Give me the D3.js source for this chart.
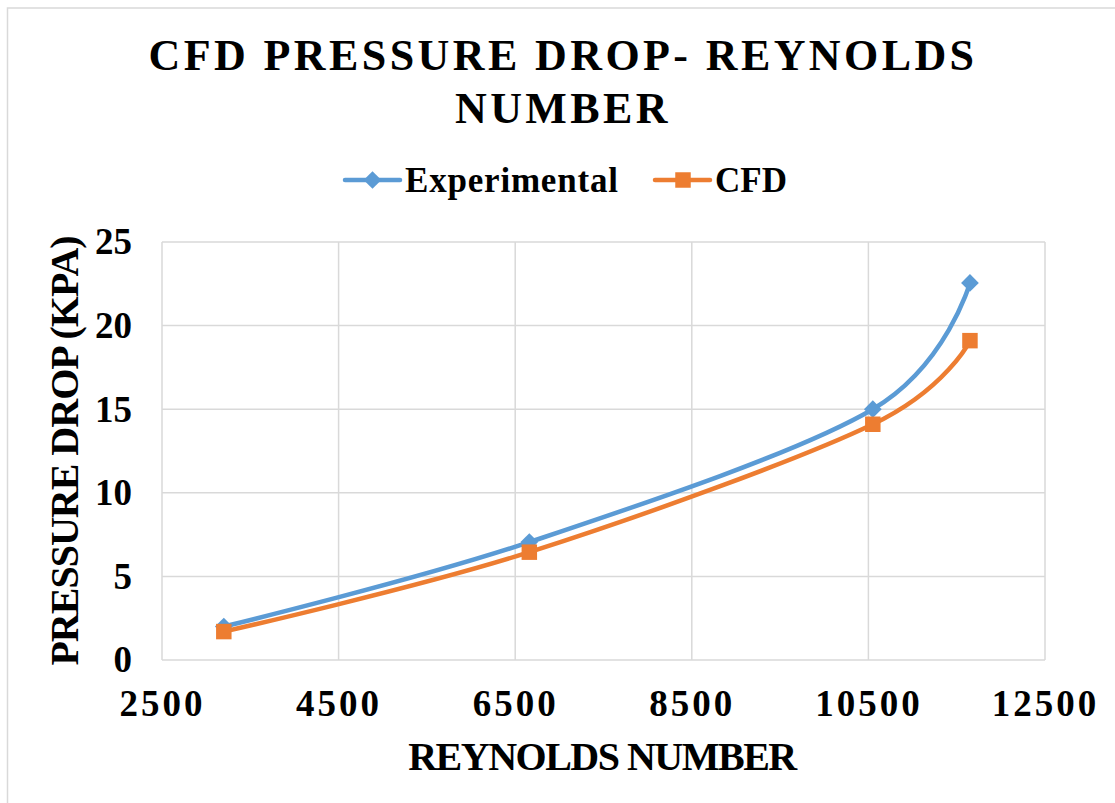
<!DOCTYPE html>
<html>
<head>
<meta charset="utf-8">
<script src="https://cdn.jsdelivr.net/npm/d3@7"></script>
<style>
  body { margin: 0; background: #fff; }
  text { font-family: "Liberation Serif", "Times New Roman", serif; font-weight: bold; fill: #000; }
</style>
</head>
<body>
<script>
// data
const reynolds = [3200, 6660, 10550, 11650]
const experimental = [2.0, 7.05, 15.0, 22.55]
const cfd = [1.7, 6.45, 14.1, 19.1]
const xTicks = [2500, 4500, 6500, 8500, 10500, 12500]
const yTicks = [0, 5, 10, 15, 20, 25]

const width = 1115
const height = 803

// plot box
const plotLeft = 162, plotRight = 1045, plotTop = 242, plotBottom = 660

const svg = d3.select("body").append("svg")
    .attr("width", width)
    .attr("height", height)

// outer chart border (runs off the right/bottom edge)
svg.append("rect")
    .attr("x", 7.5).attr("y", 8)
    .attr("width", width + 20).attr("height", height + 20)
    .attr("fill", "none")
    .attr("stroke", "#d9d9d9")
    .attr("stroke-width", 1.5)

let x = d3.scaleLinear().domain([2500, 12500]).range([plotLeft, plotRight])
let y = d3.scaleLinear().domain([0, 25]).range([plotBottom, plotTop])

// gridlines
svg.append("g").selectAll("line")
    .data(xTicks)
    .join("line")
    .attr("x1", d => x(d)).attr("x2", d => x(d))
    .attr("y1", plotTop).attr("y2", plotBottom)
    .attr("stroke", "#d9d9d9").attr("stroke-width", 1.5)

svg.append("g").selectAll("line")
    .data(yTicks)
    .join("line")
    .attr("x1", plotLeft).attr("x2", plotRight)
    .attr("y1", d => y(d)).attr("y2", d => y(d))
    .attr("stroke", "#d9d9d9").attr("stroke-width", 1.5)

// axes (labels only)
let xAxis = svg.append("g")
    .attr("transform", `translate(0, ${plotBottom})`)
    .call(d3.axisBottom(x).tickValues(xTicks).tickSize(0).tickPadding(30).tickFormat(d3.format("d")))
xAxis.select(".domain").remove()
xAxis.selectAll("text")
    .style("font-family", "Liberation Serif")
    .style("font-weight", "bold")
    .style("font-size", "37px")
    .style("letter-spacing", "3px")
    .attr("fill", "#000")

let yAxis = svg.append("g")
    .attr("transform", `translate(${plotLeft}, 0)`)
    .call(d3.axisLeft(y).tickValues(yTicks).tickSize(0).tickPadding(30))
yAxis.select(".domain").remove()
yAxis.selectAll("text")
    .style("font-family", "Liberation Serif")
    .style("font-weight", "bold")
    .style("font-size", "37px")
    .attr("fill", "#000")

// lines
const blue = "#5b9bd5", orange = "#ed7d31"
let line = d3.line()
    .x(d => x(d[0]))
    .y(d => y(d[1]))
    .curve(d3.curveCatmullRom.alpha(0))

const expPts = reynolds.map((r, i) => [r, experimental[i]])
const cfdPts = reynolds.map((r, i) => [r, cfd[i]])

svg.append("path").datum(expPts)
    .attr("d", line).attr("fill", "none")
    .attr("stroke", blue).attr("stroke-width", 4.5).attr("stroke-linecap", "round")

svg.append("path").datum(cfdPts)
    .attr("d", line).attr("fill", "none")
    .attr("stroke", orange).attr("stroke-width", 4.5).attr("stroke-linecap", "round")

// markers
let diamond = d3.symbol().type(d3.symbolDiamond2).size(200)
let square = d3.symbol().type(d3.symbolSquare).size(240)

svg.append("g").selectAll("path")
    .data(expPts)
    .join("path")
    .attr("d", diamond)
    .attr("transform", d => `translate(${x(d[0])}, ${y(d[1])})`)
    .attr("fill", blue)

svg.append("g").selectAll("path")
    .data(cfdPts)
    .join("path")
    .attr("d", square)
    .attr("transform", d => `translate(${x(d[0])}, ${y(d[1])})`)
    .attr("fill", orange)

// title
let title = svg.append("text")
    .attr("text-anchor", "middle")
    .style("font-size", "44px")
    .style("letter-spacing", "3.4px")
title.append("tspan").attr("x", 563).attr("y", 70).text("CFD PRESSURE DROP- REYNOLDS")
title.append("tspan").attr("x", 563).attr("y", 123).text("NUMBER")

// legend
let legend = svg.append("g").attr("transform", "translate(345, 180)")
legend.append("line").attr("x1", 0).attr("x2", 55).attr("stroke", blue).attr("stroke-width", 4.5).attr("stroke-linecap", "round")
legend.append("path").attr("d", diamond).attr("transform", "translate(27.5, 0)").attr("fill", blue)
legend.append("text").attr("x", 60).attr("y", 12).style("font-size", "35px").style("letter-spacing", "0.8px").text("Experimental")

legend.append("line").attr("x1", 310).attr("x2", 365).attr("stroke", orange).attr("stroke-width", 4.5).attr("stroke-linecap", "round")
legend.append("path").attr("d", square).attr("transform", "translate(338, 0)").attr("fill", orange)
legend.append("text").attr("x", 370).attr("y", 12).style("font-size", "35px").text("CFD")

// axis titles
svg.append("text")
    .attr("x", 602).attr("y", 770)
    .attr("text-anchor", "middle")
    .style("font-size", "40px")
    .style("letter-spacing", "-1.5px")
    .text("REYNOLDS NUMBER")

svg.append("text")
    .attr("transform", "translate(78, 451) rotate(-90)")
    .attr("text-anchor", "middle")
    .style("font-size", "40px")
    .style("letter-spacing", "-1px")
    .text("PRESSURE DROP (KPA)")
</script>
</body>
</html>
